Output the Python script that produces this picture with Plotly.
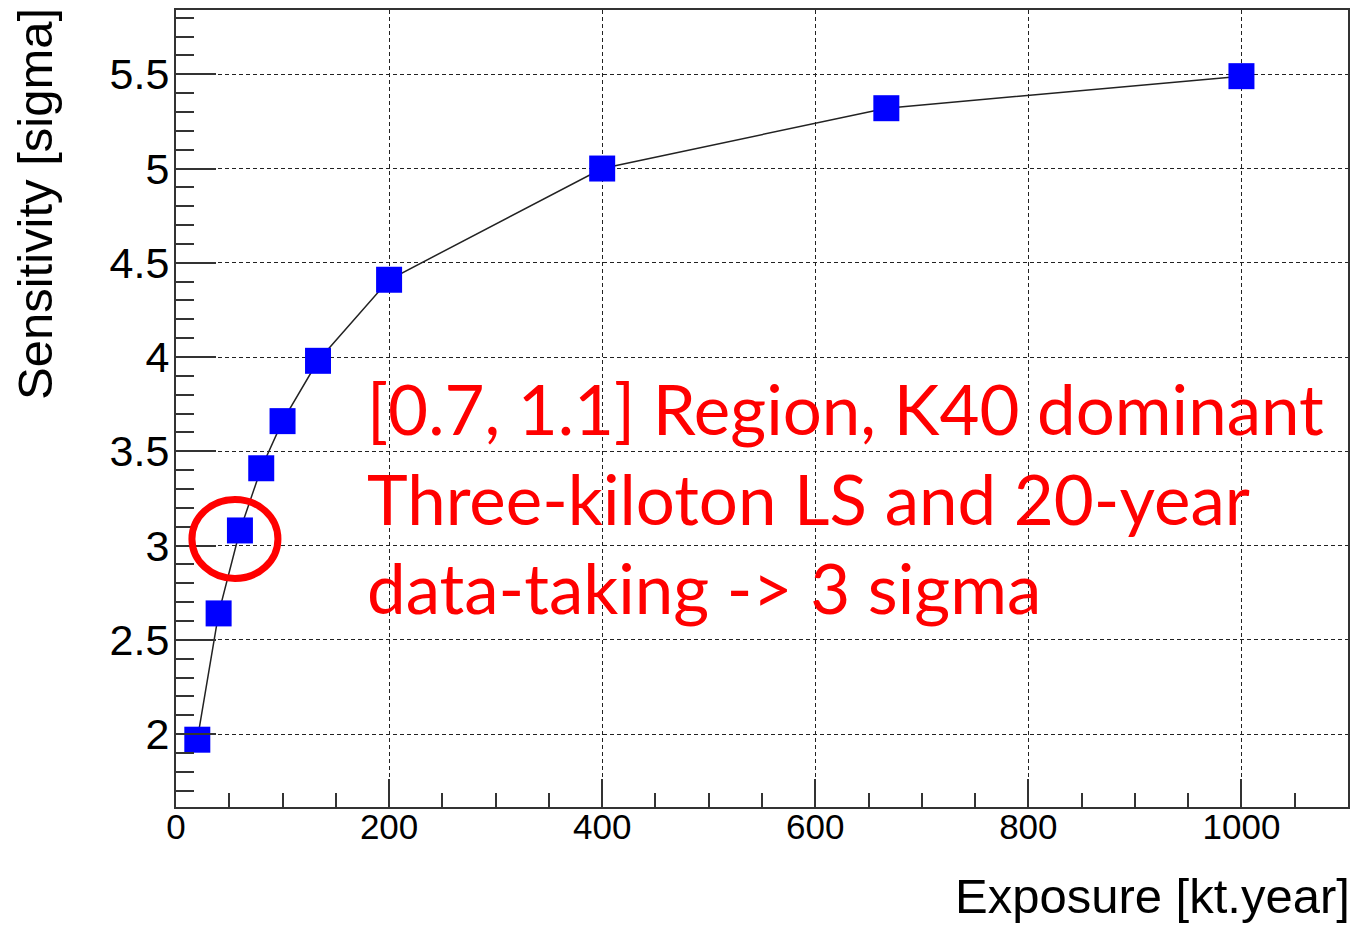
import plotly.graph_objects as go

# Sensitivity versus exposure
exposure = [20, 40, 60, 80, 100, 133.3, 200, 400, 666.7, 1000]
sensitivity = [1.97, 2.64, 3.08, 3.41, 3.66, 3.98, 4.41, 5.00, 5.32, 5.49]

x_tick_vals = [0, 200, 400, 600, 800, 1000]
x_tick_text = ["0", "200", "400", "600", "800", "1000"]
y_tick_vals = [2, 2.5, 3, 3.5, 4, 4.5, 5, 5.5]
y_tick_text = ["2", "2.5", "3", "3.5", "4", "4.5", "5", "5.5"]

highlight_index = 2  # the 20-year, three-kiloton point

note_lines = [
    "[0.7, 1.1] Region, K40 dominant",
    "Three-kiloton LS and 20-year",
    "data-taking -> 3 sigma",
]

axis_font = "Liberation Sans, Arial, sans-serif"
frame_color = "#333333"

fig = go.Figure()
fig.add_trace(go.Scatter(
    x=exposure, y=sensitivity,
    mode="lines+markers",
    line=dict(color="#222222", width=1.5),
    marker=dict(symbol="square", size=26, color="#0000ff", line=dict(width=0)),
    showlegend=False,
))

fig.update_xaxes(
    range=[0, 1100],
    tickvals=x_tick_vals, ticktext=x_tick_text,
    ticks="inside", ticklen=28, tickwidth=2, tickcolor=frame_color,
    minor=dict(ticks="inside", ticklen=14, tickwidth=2, tickcolor=frame_color,
               dtick=50, showgrid=False),
    showgrid=True, gridcolor="#222222", gridwidth=1.3, griddash="4px,3px",
    showline=True, linecolor=frame_color, linewidth=2, mirror=True,
    zeroline=False,
    tickfont=dict(family=axis_font, size=35, color="black"),
    ticklabelstandoff=-12,
)
fig.update_yaxes(
    range=[1.613, 5.841],
    tickvals=y_tick_vals, ticktext=y_tick_text,
    ticks="inside", ticklen=40, tickwidth=2, tickcolor=frame_color,
    minor=dict(ticks="inside", ticklen=18, tickwidth=2, tickcolor=frame_color,
               dtick=0.1, tick0=0, showgrid=False),
    showgrid=True, gridcolor="#222222", gridwidth=1.3, griddash="4px,3px",
    showline=True, linecolor=frame_color, linewidth=2, mirror=True,
    zeroline=False,
    tickfont=dict(family=axis_font, size=43, color="black"),
    ticklabelstandoff=-4,
)

# Circle around the highlighted point
fig.add_shape(
    type="circle", xref="x", yref="y",
    xsizemode="pixel", ysizemode="pixel",
    xanchor=exposure[highlight_index], yanchor=sensitivity[highlight_index],
    x0=-48, x1=38, y0=-48, y1=31,
    line=dict(color="#ff0000", width=7),
)

# Axis titles
fig.add_annotation(
    text="Exposure [kt.year]", xref="paper", yref="paper",
    x=1, y=0, xanchor="right", yanchor="top", yshift=-60, xshift=4,
    showarrow=False,
    font=dict(family=axis_font, size=49, color="black"),
)
fig.add_annotation(
    text="Sensitivity [sigma]", xref="paper", yref="paper",
    x=0, y=1, xanchor="center", yanchor="top", xshift=-141, yshift=4,
    textangle=-90, showarrow=False,
    font=dict(family=axis_font, size=49, color="black"),
)

# Explanatory note
fig.add_annotation(
    text="<br>".join(note_lines), xref="paper", yref="paper",
    x=0.161, y=0.555, xanchor="left", yanchor="top", align="left",
    showarrow=False,
    font=dict(family="Lato, Carlito, sans-serif", size=69, color="#ff0000"),
)

fig.update_layout(
    width=1352, height=926,
    margin=dict(l=176, r=2, t=10, b=119),
    paper_bgcolor="white", plot_bgcolor="white",
)

fig.write_html("out.html")
